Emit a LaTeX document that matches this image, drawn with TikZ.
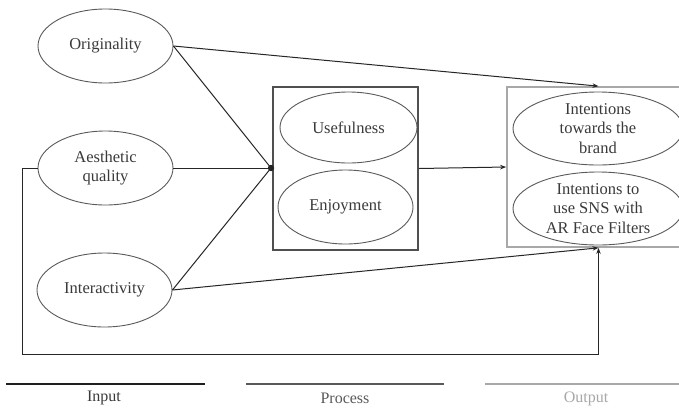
\documentclass[tikz,border=0pt]{standalone}
\usepackage{fontspec}
\setmainfont{Liberation Serif}
\usetikzlibrary{arrows.meta,shapes.geometric}
\definecolor{txt}{HTML}{3A3A3A}
\definecolor{ell}{HTML}{5A5A5A}
\definecolor{procc}{HTML}{505050}
\definecolor{outc}{HTML}{A8A8A8}
\tikzset{
  construct/.style={draw=ell, line width=0.9pt, ellipse, inner sep=0pt,
    minimum width=135pt, minimum height=74pt, align=center, text=txt,
    font=\fontsize{16.5}{19.5}\selectfont},
  stagebox/.style={rectangle, inner sep=0pt, line width=1.7pt},
  link/.style={draw=black!85, line width=1pt},
  arr/.style={link, -{Stealth[length=6pt,width=4.5pt]}},
  legendline/.style={line width=2pt},
  legendtxt/.style={font=\fontsize{16}{19}\selectfont},
}
\begin{document}
\begin{tikzpicture}[x=1pt,y=-1pt]
\useasboundingbox (0,0) rectangle (679,408);
\clip (0,0) rectangle (679,408);
\fill[white] (0,0) rectangle (679,408);

% input constructs
\node[construct] (orig) at (105.5,46) {Originality};
\node[construct] (aes) at (105.5,168) {Aesthetic\\quality};
\node[construct] (inter) at (104.5,290) {Interactivity};

% process stage
\node[stagebox, draw=procc, minimum width=145pt, minimum height=163pt] (proc) at (345.5,168.5) {};
\node[construct, minimum width=137pt, minimum height=71pt] (use) at (348.5,127.5) {Usefulness};
\node[construct] (enj) at (345.5,207) {Enjoyment};

% output stage
\node[stagebox, draw=outc, minimum width=183pt, minimum height=160pt] (outbox) at (598.5,167) {};
\node[construct, minimum width=170pt, minimum height=73pt] (brand) at (598,128.5) {Intentions\\towards the\\brand};
\node[construct, minimum width=170pt, minimum height=73pt] (sns) at (598,208.5) {Intentions to\\use SNS with\\AR Face Filters};

% paths into the process stage
\coordinate (junc) at (271,168);
\draw[link] (orig.east) -- (junc);
\draw[link] (aes.east) -- (junc);
\draw[link] (inter.east) -- (junc);
\fill[black!85] (junc) circle (3.2);

% paths into the output stage
\draw[arr] (proc.east) -- (outbox.west);
\draw[arr] (orig.east) -- (outbox.north);
\draw[arr] (inter.east) -- (outbox.south);
\coordinate (fbL) at (22,168);
\coordinate (fbB) at (598.5,354);
\draw[arr] (aes.west) -- (fbL) |- (fbB) -- (outbox.south);

% legend
\draw[legendline, draw=black!88] (6,384) coordinate (inA) -- (205,384) coordinate (inB);
\draw[legendline, draw=black!65] (246,384) coordinate (prA) -- (444,384) coordinate (prB);
\draw[legendline, draw=outc] (485,384) coordinate (ouA) -- (690,384) coordinate (ouB);
\node[legendtxt, text=txt] (inlab) at (104,398) {Input};
\node[legendtxt, text=black!65] (prlab) at (345,398) {Process};
\node[legendtxt, text=outc] (oulab) at (586,399) {Output};
\end{tikzpicture}
\end{document}
